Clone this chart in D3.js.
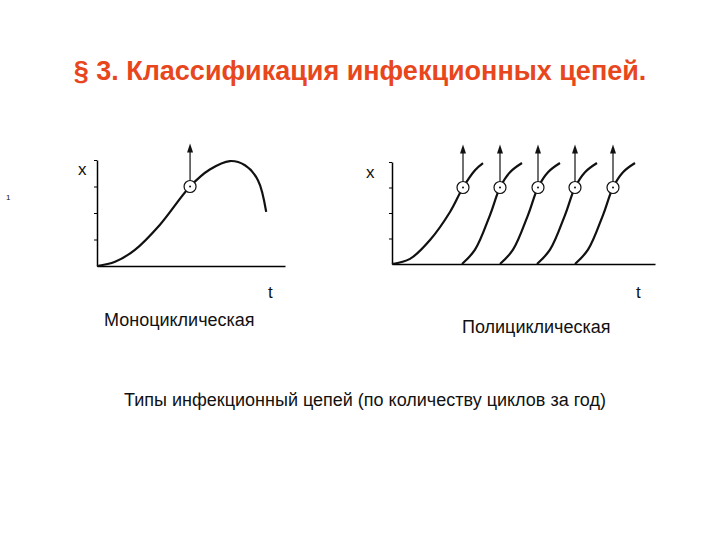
<!DOCTYPE html>
<html><head><meta charset="utf-8">
<script src="https://cdn.jsdelivr.net/npm/d3@7"></script>
<style>body{margin:0;background:#fff}text{font-family:Arial,"Liberation Sans",sans-serif}</style>
</head><body><svg id="c" width="720" height="540"></svg>
<script>
"use strict"
// mono cycle curve, t and x in 0..100
var monoT = [0, 9.6, 20, 33.5, 49.5, 60, 70.7, 78.7, 85.6, 90];
var monoX = [0, 4, 15, 39, 75, 91, 99, 95, 81, 51];
// poly: first cycle, then shape of later cycles, and where they start (px units of t)
var firstT = [0, 18, 38, 58, 71, 83, 91];
var firstX = [0, 5, 23.5, 51, 75, 92, 99];
var cycleT = [0, 13, 28, 38, 48, 60];
var cycleX = [0, 14, 48, 75, 90, 99];
var cycleStarts = [70, 108, 145, 183];

var svg = d3.select('#c');
svg.append('text').attr('x', 360).attr('y', 80).attr('text-anchor', 'middle')
   .attr('font-size', 27).attr('font-weight', 'bold').attr('fill', '#e8461c')
   .text('§ 3. Классификация инфекционных цепей.');

function panel(x0, x1, y0, y1, tMax){
  var xs = d3.scaleLinear().domain([0, tMax]).range([x0, x1]);
  var ys = d3.scaleLinear().domain([0, 100]).range([y1, y0]);
  var g = svg.append('g');
  g.append('g').attr('transform', 'translate(0,' + y1 + ')')
   .call(d3.axisBottom(xs).tickValues([]).tickSizeOuter(0));
  g.append('g').attr('transform', 'translate(' + x0 + ',0)')
   .call(d3.axisLeft(ys).tickValues([25, 50, 75, 100]).tickFormat('').tickSize(3).tickSizeOuter(0));
  g.selectAll('.domain').attr('stroke-width', 1.5);
  return {g: g, xs: xs, ys: ys};
}
function curve(p, ts, xs, off){
  var line = d3.line().curve(d3.curveCatmullRom)
               .x(function(d){ return p.xs(d[0] + off); }).y(function(d){ return p.ys(d[1]); });
  p.g.append('path').datum(d3.zip(ts, xs)).attr('d', line)
     .attr('fill', 'none').attr('stroke', '#111').attr('stroke-width', 2.2);
}
function marker(p, t, x){
  var cx = p.xs(t), cy = p.ys(x);
  p.g.append('line').attr('x1', cx).attr('x2', cx).attr('y1', cy - 6).attr('y2', cy - 36)
     .attr('stroke', '#111').attr('stroke-width', 1.2);
  p.g.append('path').attr('d', 'M' + (cx - 3) + ',' + (cy - 34) + 'L' + cx + ',' + (cy - 43) + 'L' + (cx + 3) + ',' + (cy - 34) + 'Z')
     .attr('fill', '#111');
  p.g.append('circle').attr('cx', cx).attr('cy', cy).attr('r', 6).attr('fill', '#fff')
     .attr('stroke', '#111').attr('stroke-width', 1.2);
  p.g.append('circle').attr('cx', cx).attr('cy', cy).attr('r', 1).attr('fill', '#111');
}

var left = panel(97, 285, 160, 266, 100);
curve(left, monoT, monoX, 0);
marker(left, monoT[4], monoX[4]);

var right = panel(392, 655, 162, 264, 263);
curve(right, firstT, firstX, 0);
marker(right, firstT[4], firstX[4]);
cycleStarts.forEach(function(s){
  curve(right, cycleT, cycleX, s);
  marker(right, s + cycleT[3], cycleX[3]);
});

function label(x, y, s, size, anchor){
  svg.append('text').attr('x', x).attr('y', y).attr('font-size', size)
     .attr('text-anchor', anchor || 'start').attr('fill', '#111').text(s);
}
label(78, 175, 'x', 17); label(366, 178, 'x', 17);
label(268, 298, 't', 17); label(636, 298, 't', 17);
label(6, 200, '1', 8);
label(104, 326, 'Моноциклическая', 18);
label(462, 333, 'Полициклическая', 18);
label(365, 406, 'Типы инфекционный цепей (по количеству циклов за год)', 18, 'middle');
</script></body></html>
